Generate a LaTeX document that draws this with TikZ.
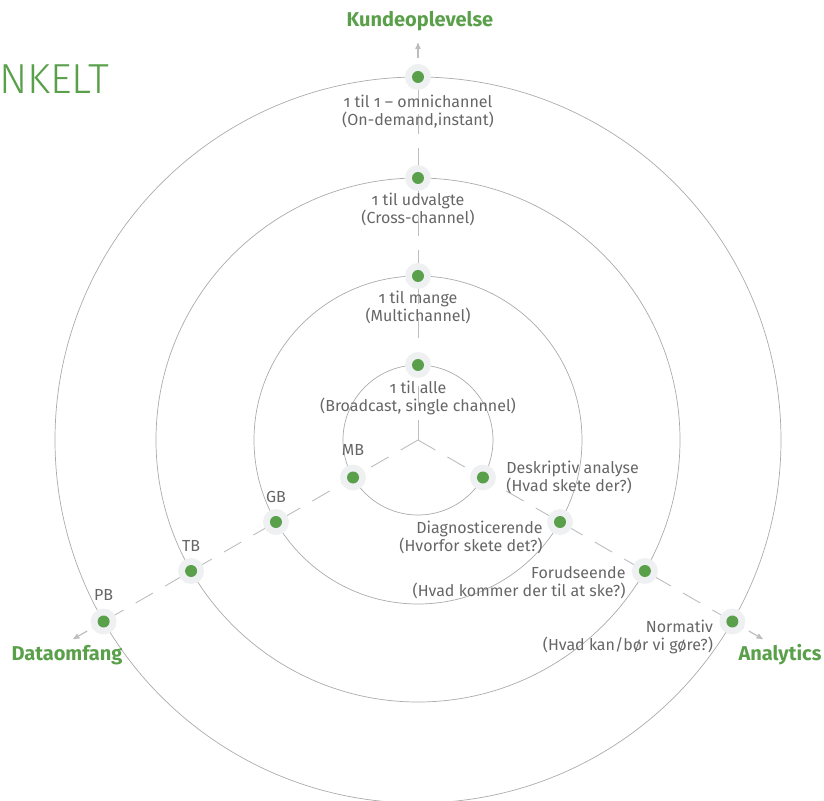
\documentclass[tikz,border=0pt]{standalone}
\usepackage{fontspec}
\setmainfont{Fira Sans}[Numbers=OldStyle]
\newfontfamily\lightfont{Fira Sans Light}
\usetikzlibrary{arrows,positioning}
\definecolor{dotgreen}{HTML}{5AA04B}
\definecolor{halo}{HTML}{EFF0F2}
\definecolor{ringgray}{HTML}{ABABAB}
\definecolor{axisgray}{HTML}{BDBDBD}
\definecolor{textgray}{HTML}{666666}

\begin{document}
\begin{tikzpicture}[>=stealth',x=1pt,y=1pt,
  ring/.style={draw=ringgray,line width=0.7pt},
  axis line/.style={draw=axisgray,line width=0.9pt,dash pattern=on 20pt off 14pt},
  axis tip/.style={draw=axisgray,line width=1.2pt,->},
  halo node/.style={circle,fill=halo,minimum size=26pt,inner sep=0pt},
  dot node/.style={circle,fill=dotgreen,minimum size=12pt,inner sep=0pt},
  stage label/.style={font=\fontsize{16}{18}\selectfont,text=textgray,inner sep=1pt},
  axis label/.style={font=\fontsize{20}{20}\selectfont\bfseries,text=dotgreen}]
  \useasboundingbox (-418,-360) rectangle (406,440);
  \coordinate (o) at (0,0);
  % rings
  \foreach \r in {75,164,262,363}
    \draw[ring] (o) circle (\r);
  % axes
  \coordinate (kstop) at (90:376);
  \coordinate (kfrom) at (90:382);
  \coordinate (kend)  at (90:397);
  \coordinate (dstop) at (210:376);
  \coordinate (dfrom) at (210:382);
  \coordinate (dend)  at (210:398);
  \coordinate (astop) at (-30:376);
  \coordinate (afrom) at (-30:382);
  \coordinate (aend)  at (-30:398);
  \draw[axis line] (o) -- (kstop);
  \draw[axis line] (o) -- (dstop);
  \draw[axis line] (o) -- (astop);
  \draw[axis tip] (kfrom) -- (kend);
  \draw[axis tip] (dfrom) -- (dend);
  \draw[axis tip] (afrom) -- (aend);
  % stages
  \foreach \i/\r in {1/75,2/164,3/262,4/363} {
    \node[halo node] (k\i) at (90:\r) {};
    \node[dot node] at (k\i) {};
    \node[halo node] (d\i) at (210:\r) {};
    \node[dot node] at (d\i) {};
    \node[halo node] (a\i) at (-30:\r) {};
    \node[dot node] at (a\i) {};
  }
  % kundeoplevelse
  \node[stage label,align=center,below=2pt of k1] {1 til alle\\(Broadcast, single channel)};
  \node[stage label,align=center,below=1pt of k2] {1 til mange\\(Multichannel)};
  \node[stage label,align=center,below=1pt of k3] {1 til udvalgte\\(Cross-channel)};
  \node[stage label,align=center,below=4pt of k4] {1 til 1 – omnichannel\\(On-demand,instant)};
  % dataomfang
  \node[stage label,above=8pt of d1] {MB};
  \node[stage label,above=5pt of d2] {GB};
  \node[stage label,above=5pt of d3] {TB};
  \node[stage label,above=7pt of d4] {PB};
  % analytics
  \node[stage label,align=left,right=9pt of a1,yshift=0.5pt] {Deskriptiv analyse\\(Hvad skete der?)};
  \node[stage label,align=right,left=3pt of a2,yshift=-15pt] {Diagnosticerende\\(Hvorfor skete det?)};
  \node[stage label,align=right,left=5pt of a3,yshift=-12pt] {Forudseende\\(Hvad kommer der til at ske?)};
  \node[stage label,align=right,left=5pt of a4,yshift=-15.5pt] {Normativ\\(Hvad kan/bør vi gøre?)};
  % axis titles
  \node[axis label] (kunde) at (2,419)     {Kundeoplevelse};
  \node[axis label] (data)  at (-351,-215) {Dataomfang};
  \node[axis label] (anal)  at (362,-215)  {Analytics};
  \node[font=\lightfont\fontsize{42}{42}\selectfont,text=dotgreen,anchor=base west,inner sep=0pt] (titel) at (-419,346) {NKELT};
\end{tikzpicture}
\end{document}
